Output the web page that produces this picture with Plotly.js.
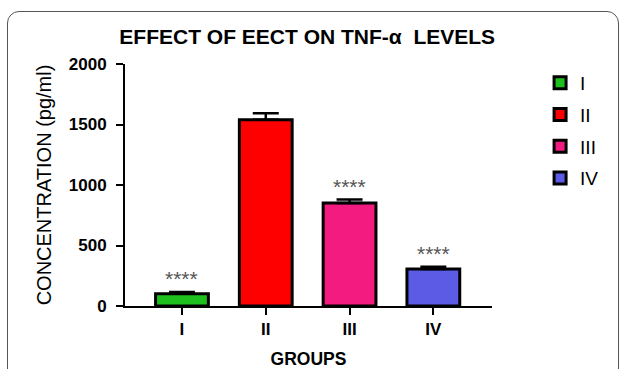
<!DOCTYPE html>
<html>
<head>
<meta charset="utf-8">
<script src="https://cdn.plot.ly/plotly-3.0.1.min.js"></script>
<style>
  html, body { margin: 0; padding: 0; background: #ffffff; }
  #frame { position: absolute; left: 7px; top: 11px; width: 612px; height: 400px;
           border: 1.5px solid #555; border-radius: 12px; box-sizing: border-box; }
  #chart { position: absolute; left: 0; top: 0; width: 627px; height: 369px; }
</style>
</head>
<body>
<div id="frame"></div>
<div id="chart"></div>
<script>
// ---- data ----
var groups = ["I", "II", "III", "IV"];
var means = [102, 1540, 852, 305];
var errors = [14, 52, 28, 20];
var stars = ["****", "", "****", "****"];
var colors = ["#1ec01e", "#ff0000", "#f31b80", "#5b5be6"];
var yTicks = [0, 500, 1000, 1500, 2000];

var FONT = '"Liberation Sans", Arial, sans-serif';

var traces = groups.map(function (g, i) {
  return {
    type: "bar",
    name: g,
    x: [g],
    y: [means[i]],
    width: 0.63,
    legendgroup: g,
    marker: { color: colors[i], line: { color: "#000", width: 3 } },
    error_y: { type: "data", symmetric: false, array: [errors[i]], arrayminus: [0], visible: true,
               color: "#000", thickness: 2.5, width: 13 },
    hoverinfo: "x+y"
  };
});

var annotations = [];
groups.forEach(function (g, i) {
  if (stars[i]) {
    annotations.push({
      x: g, y: means[i] + errors[i], xref: "x", yref: "y",
      text: stars[i], showarrow: false, yanchor: "bottom", yshift: 0,
      font: { family: FONT, size: 21, color: "#555" }
    });
  }
});

var layout = {
  width: 627, height: 369,
  margin: { l: 125, r: 135, t: 64, b: 63 },
  paper_bgcolor: "rgba(0,0,0,0)",
  plot_bgcolor: "rgba(0,0,0,0)",
  barmode: "overlay",
  font: { family: FONT, color: "#000" },
  title: {
    text: "EFFECT OF EECT ON TNF-α  LEVELS",
    font: { family: FONT, size: 21, weight: "bold", color: "#000" },
    x: 0.49, xanchor: "center", xref: "container",
    y: 0.9, yref: "container", yanchor: "middle"
  },
  xaxis: {
    type: "category",
    categoryorder: "array", categoryarray: groups,
    range: [-0.68, 3.70],
    showline: true, linecolor: "#000", linewidth: 2,
    ticks: "outside", ticklen: 7, tickwidth: 2, tickcolor: "#000",
    tickfont: { family: FONT, size: 17, weight: "bold", color: "#000" },
    showgrid: false, zeroline: false,
    title: { text: "GROUPS", font: { family: FONT, size: 17.5, weight: "bold", color: "#000" }, standoff: 14 }
  },
  yaxis: {
    range: [0, 2000],
    tickvals: yTicks,
    ticktext: yTicks.map(String),
    showline: true, linecolor: "#000", linewidth: 2,
    ticks: "outside", ticklen: 7, tickwidth: 2, tickcolor: "#000",
    ticklabelstandoff: 6,
    tickfont: { family: FONT, size: 17, weight: "bold", color: "#000" },
    showgrid: false, zeroline: false,
    title: { text: "CONCENTRATION (pg/ml)", font: { family: FONT, size: 20, color: "#000" }, standoff: 12 }
  },
  legend: {
    x: 1.131, xanchor: "left", y: 1.0, yanchor: "top",
    font: { family: FONT, size: 19, color: "#000" },
    tracegroupgap: 4,
    bgcolor: "rgba(0,0,0,0)"
  },
  annotations: annotations,
  showlegend: true
};

Plotly.newPlot("chart", traces, layout, { displayModeBar: false, staticPlot: true });
</script>
</body>
</html>
